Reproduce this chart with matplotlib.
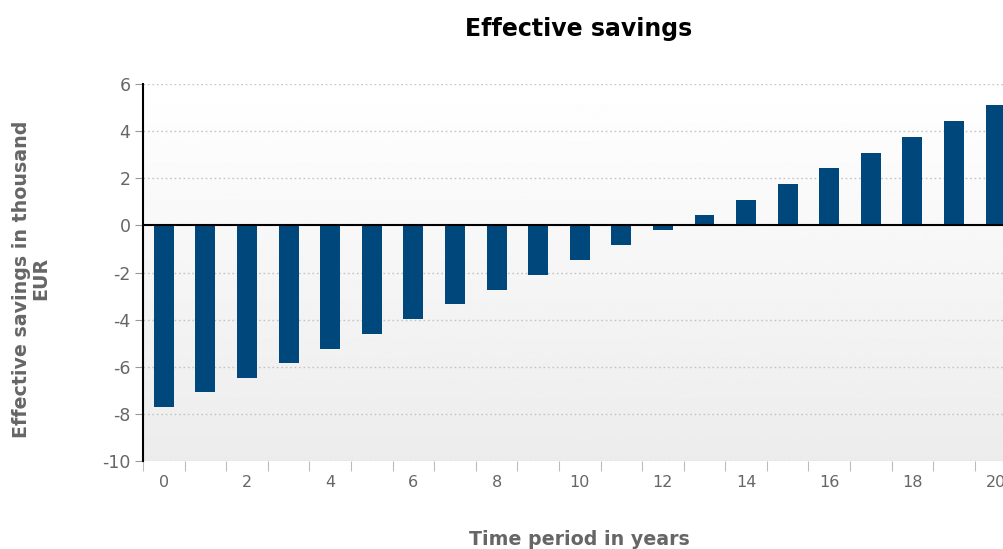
import numpy as np
import matplotlib.pyplot as plt

# effective savings per year, thousand EUR
years = list(range(0, 21))
savings = [-7.70, -7.06, -6.47, -5.83, -5.23, -4.60, -3.96, -3.32, -2.72, -2.09,
           -1.45, -0.81, -0.20, 0.43, 1.10, 1.75, 2.43, 3.06, 3.74, 4.43, 5.10]
y_ticks = [6, 4, 2, 0, -2, -4, -6, -8, -10]

bar_color = '#00487c'
label_gray = '#666666'

fig = plt.figure(figsize=(10.04, 5.49), dpi=100)
ax = fig.add_axes([0.1424, 0.160, 0.870, 0.687])

ax.set_xlim(-0.5, 20.5)
ax.set_ylim(-10, 6)

# soft vertical gradient behind the plot area
grad = np.linspace(1.0, 0.925, 256).reshape(-1, 1)
ax.imshow(grad, cmap='gray', vmin=0, vmax=1, aspect='auto',
          extent=(-0.5, 20.5, -10, 6), origin='upper', zorder=0)

for t in y_ticks:
    if t != 0:
        ax.axhline(t, color='#c4c4c4', lw=1, ls=(0, (1.2, 2)), zorder=1)

ax.bar(years, savings, width=0.48, color=bar_color, zorder=3)
ax.axhline(0, color='black', lw=1.5, zorder=4)

for s in ['top', 'right', 'bottom']:
    ax.spines[s].set_visible(False)
ax.spines['left'].set_color('black')
ax.spines['left'].set_linewidth(1.5)
ax.spines['left'].set_zorder(5)

ax.set_yticks(y_ticks)
ax.set_yticklabels([str(t) for t in y_ticks])
ax.tick_params(axis='y', length=6, color='#999999', labelsize=12.5,
               labelcolor=label_gray, pad=3)

# ticks sit on category boundaries, labels on every second year
ax.set_xticks(np.arange(-0.5, 21, 1))
ax.set_xticklabels([])
ax.set_xticks(years[::2], minor=True)
ax.set_xticklabels([str(y) for y in years[::2]], minor=True)
ax.tick_params(axis='x', which='major', length=7, color='#bbbbbb')
ax.tick_params(axis='x', which='minor', length=0, labelsize=11.5,
               labelcolor=label_gray, pad=10)

fig.text(0.5766, 0.948, 'Effective savings', ha='center', va='center',
         fontsize=17, fontweight='bold', color='black')
fig.text(0.5766, 0.018, 'Time period in years', ha='center', va='center',
         fontsize=13.7, fontweight='bold', color=label_gray)
fig.text(0.031, 0.492, 'Effective savings in thousand\nEUR', ha='center',
         va='center', rotation=90, fontsize=13.7, fontweight='bold',
         color=label_gray, linespacing=1.0)

fig.savefig('out.png', dpi=100)
